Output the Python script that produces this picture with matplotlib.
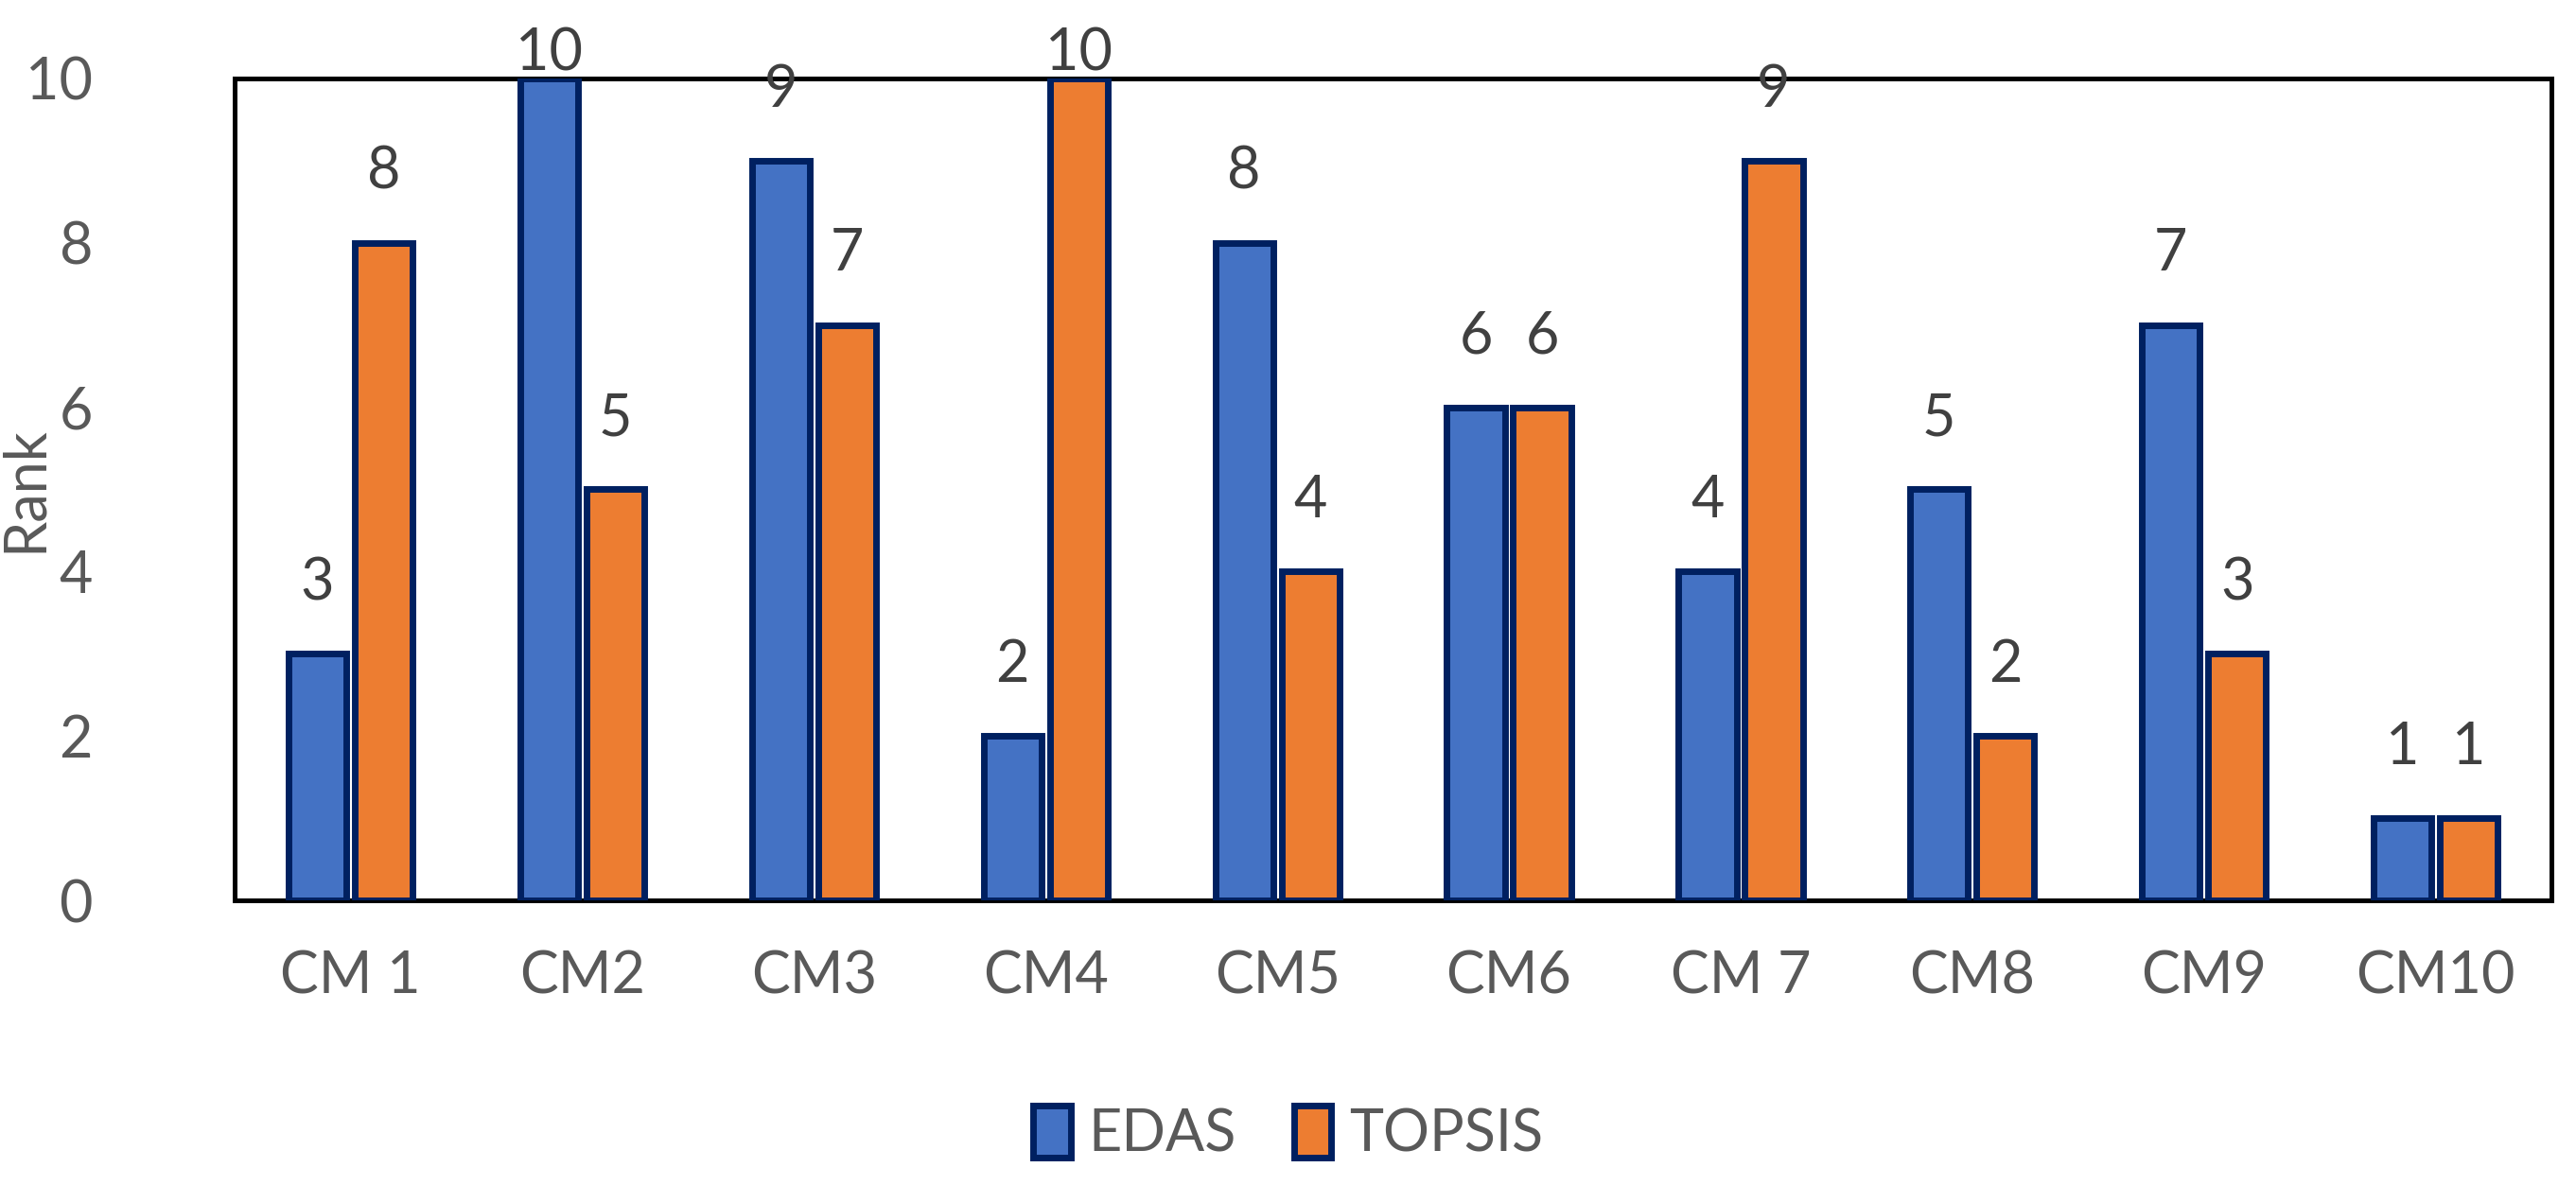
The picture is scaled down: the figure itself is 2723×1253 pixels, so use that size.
import matplotlib.pyplot as plt
import numpy as np

plt.rcParams["font.family"] = ["Lato", "DejaVu Sans"]

categories = ["CM 1", "CM2", "CM3", "CM4", "CM5", "CM6", "CM 7", "CM8", "CM9", "CM10"]
edas = [3, 10, 9, 2, 8, 6, 4, 5, 7, 1]
topsis = [8, 5, 7, 10, 4, 6, 9, 2, 3, 1]

fig = plt.figure(figsize=(27.23, 12.53), dpi=100)
ax = fig.add_axes([0.0911, 0.2402, 0.8994, 0.6936])

x = np.arange(len(categories))
w = 0.25
off = 0.143
edge = "#002060"
b1 = ax.bar(x - off, edas, w, color="#4472C4", edgecolor=edge, linewidth=5, label="EDAS", zorder=3)
b2 = ax.bar(x + off, topsis, w, color="#ED7D31", edgecolor=edge, linewidth=5, label="TOPSIS", zorder=3)

# value labels above bars (Excel keeps them inside the chart area)
for xs, vals in [(x - off, edas), (x + off, topsis)]:
    for xi, v in zip(xs, vals):
        ax.text(xi, min(v + 0.86, 10.3), str(v), ha="center", va="center",
                fontsize=44, color="#404040", clip_on=False)

ax.set_xlim(-0.5, len(categories) - 0.5)
ax.set_ylim(0, 10)
ax.set_yticks(range(0, 11, 2))
ax.set_xticks(x)
ax.set_xticklabels(categories)
ax.tick_params(axis="both", length=0, labelsize=44, labelcolor="#595959")
ax.tick_params(axis="y", pad=108)
ax.tick_params(axis="x", pad=38)
for s in ax.spines.values():
    s.set_linewidth(3.6)
    s.set_color("black")
ax.set_ylabel("Rank", fontsize=44, color="#595959")
ax.yaxis.set_label_coords(-0.079, 0.5)

fig.legend(handles=[b1, b2], loc="center", bbox_to_anchor=(0.5, 0.043), ncol=2,
           frameon=False, fontsize=44, labelcolor="#595959",
           handlelength=0.65, handleheight=1.0, handletextpad=0.3, columnspacing=1.0)

fig.savefig("out.png", dpi=100)
